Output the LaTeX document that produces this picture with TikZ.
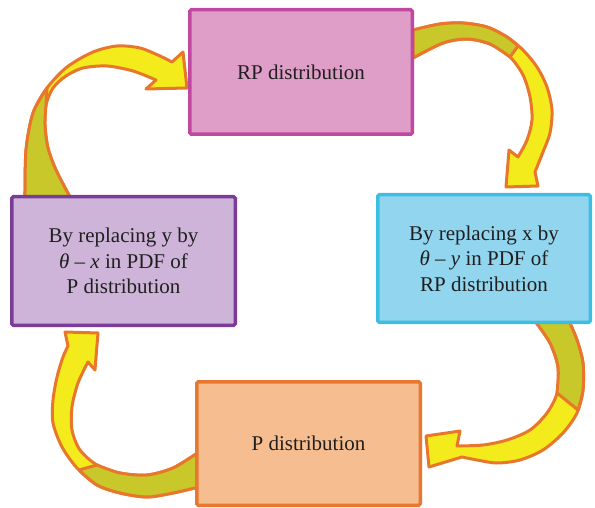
\documentclass[tikz,border=0pt]{standalone}
\usepackage{fontspec}
\setmainfont{Liberation Serif}
\usepackage{tikz}

\definecolor{rpfill}{HTML}{DE9EC8}
\definecolor{rpline}{HTML}{C048A0}
\definecolor{lfill}{HTML}{CEB4D8}
\definecolor{lline}{HTML}{7A3C98}
\definecolor{rfill}{HTML}{92D5EE}
\definecolor{rline}{HTML}{3CBEE2}
\definecolor{pfill}{HTML}{F6BE90}
\definecolor{pline}{HTML}{E87830}
\definecolor{arrowyellow}{HTML}{F3EB1B}
\definecolor{arrowolive}{HTML}{C8C82B}
\definecolor{arroworange}{HTML}{E8772B}

\begin{document}
\begin{tikzpicture}[x=1pt, y=-1pt,
    box/.style={rectangle, line width=3.5pt, rounded corners=1.5pt, inner sep=0pt,
        align=center, text=black!88, font=\fontsize{21}{25.5}\selectfont},
    ribbon/.style={fill=arrowyellow, draw=arroworange, line width=3pt, line join=round},
    ribbonback/.style={fill=arrowolive, draw=arroworange, line width=3pt, line join=round}]
    \useasboundingbox (0,0) rectangle (595,508);

    % purple -> RP
    \filldraw[ribbon] plot[smooth] coordinates {(25,197) (26,150) (33,113) (47,88) (67,67) (93,52) (117,46) (140,48) (160,56) (172,62)}
        -- (183,52) -- (187,88) -- (146,89)
        -- plot[smooth] coordinates {(156,80) (133,71) (107,66) (83,68) (66,76) (53,88) (46,105) (45,125) (48,148) (56,170) (70,197)} -- cycle;
    \filldraw[ribbonback] plot[smooth] coordinates {(25,197) (26,150) (33,113) (47,88)}
        -- plot[smooth] coordinates {(46,105) (45,125) (48,148) (56,170) (70,197)} -- cycle;

    % RP -> cyan
    \filldraw[ribbon] plot[smooth] coordinates {(413,30) (440,24) (463,23) (487,27) (507,37) (523,50) (537,67) (547,87) (552,110) (550,133) (543,152) (535,172)}
        -- (538,186) -- (506,187) -- (509,150)
        -- plot[smooth] coordinates {(518,157) (527,140) (532,120) (530,97) (523,75) (510,57) (490,44) (467,39) (443,43) (413,58)} -- cycle;
    \filldraw[ribbonback] plot[smooth] coordinates {(413,30) (440,24) (463,23) (487,27) (507,37) (518,46)}
        -- plot[smooth] coordinates {(510,57) (490,44) (467,39) (443,43) (413,58)} -- cycle;

    % cyan -> P
    \filldraw[ribbon] plot[smooth] coordinates {(569,321) (577,340) (583,363) (583,390) (577,413) (563,433) (543,450) (520,460) (497,463) (477,460) (462,457)}
        -- (429,467) -- (426,436) -- (460,431)
        -- plot[smooth] coordinates {(457,446) (483,445) (507,440) (530,430) (547,413) (557,393) (558,367) (550,343) (535,321)} -- cycle;
    \filldraw[ribbonback] plot[smooth] coordinates {(569,321) (577,340) (583,363) (583,390) (578,410)}
        -- plot[smooth] coordinates {(557,393) (558,367) (550,343) (535,321)} -- cycle;

    % P -> purple
    \filldraw[ribbon] plot[smooth] coordinates {(199,487) (173,493) (147,497) (120,493) (97,485) (77,468) (62,447) (53,423) (53,400) (57,377) (63,357) (68,346)}
        -- (65,332) -- (98,333) -- (95,370)
        -- plot[smooth] coordinates {(88,362) (78,383) (72,407) (72,430) (80,450) (97,465) (120,473) (147,475) (173,468) (199,452)} -- cycle;
    \filldraw[ribbonback] plot[smooth] coordinates {(199,487) (173,493) (147,497) (120,493) (97,485) (79,470)}
        -- plot[smooth] coordinates {(97,465) (120,473) (147,475) (173,468) (199,452)} -- cycle;

    \node[box, fill=rpfill, draw=rpline, minimum width=222.5pt, minimum height=124.5pt] (rp) at (301,72) {RP distribution};
    \node[box, fill=lfill, draw=lline, minimum width=223.5pt, minimum height=128.5pt] (yrep) at (123.5,261)
        {By replacing y by\\ \textit{θ} – \textit{x} in PDF of\\ P distribution};
    \node[box, fill=rfill, draw=rline, minimum width=212.5pt, minimum height=127.5pt] (xrep) at (484,258.5)
        {By replacing x by\\ \textit{θ} – \textit{y} in PDF of\\ RP distribution};
    \node[box, fill=pfill, draw=pline, minimum width=223.5pt, minimum height=123.5pt] (p) at (308.5,443.5) {P distribution};
\end{tikzpicture}
\end{document}
